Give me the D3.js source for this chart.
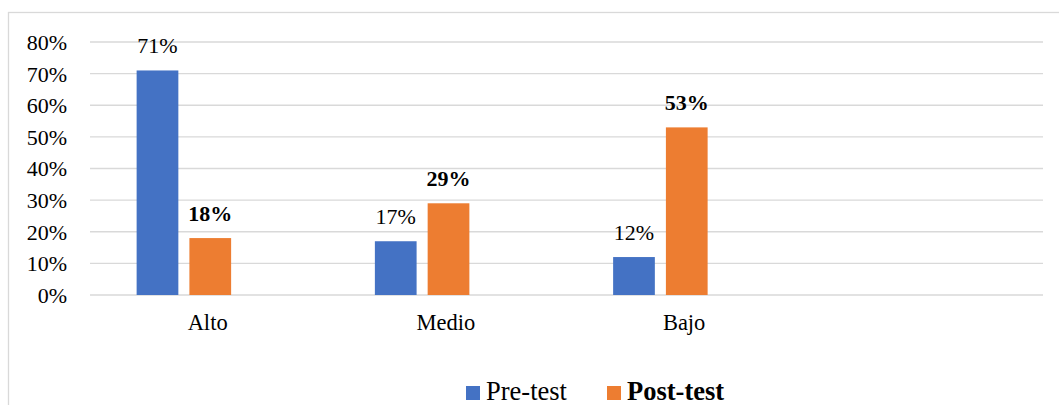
<!DOCTYPE html>
<html>
<head>
<meta charset="utf-8">
<script src="https://cdn.jsdelivr.net/npm/d3@7"></script>
<style>
  html, body { margin: 0; padding: 0; background: #ffffff; }
  svg { display: block; }
</style>
</head>
<body>
<div id="chart"></div>
<script>
const categories = ["Alto", "Medio", "Bajo", ""];
const seriesNames = ["Pre-test", "Post-test"];
const preTest = [0.71, 0.17, 0.12, null];
const postTest = [0.18, 0.29, 0.53, null];
const yTicks = [0, 0.1, 0.2, 0.3, 0.4, 0.5, 0.6, 0.7, 0.8];
const seriesValues = [preTest, postTest];
const seriesColors = ["#4472C4", "#ED7D31"];
const seriesBold = [false, true];

const FONT = "'Liberation Serif', 'Times New Roman', Times, serif";
const W = 1059, H = 405;
const svg = d3.select("#chart").append("svg").attr("width", W).attr("height", H);

// outer chart border (extends beyond the right/bottom edges)
svg.append("rect")
  .attr("x", 8.5).attr("y", 12.5)
  .attr("width", W + 20).attr("height", H + 20)
  .attr("fill", "none").attr("stroke", "#d9d9d9").attr("stroke-width", 1.3);

const plotLeft = 90, plotRight = 1043;
const y = d3.scaleLinear().domain([0, 0.8]).range([295, 42]);
const x0 = d3.scaleBand().domain(categories).range([88.5, 1041.5]).padding(0);
const x1 = d3.scaleBand().domain(seriesNames).range([-71, 23.5]).paddingInner(0.2095).paddingOuter(0);

// gridlines
svg.append("g").selectAll("line").data(yTicks).join("line")
  .attr("x1", plotLeft).attr("x2", plotRight)
  .attr("y1", d => y(d)).attr("y2", d => y(d))
  .attr("stroke", "#d9d9d9").attr("stroke-width", 1.3);

// y axis labels
const yAxis = d3.axisLeft(y).tickValues(yTicks).tickFormat(d3.format(".0%")).tickSize(0).tickPadding(0);
const yg = svg.append("g").attr("transform", "translate(67,0)").call(yAxis);
yg.select(".domain").remove();
yg.attr("font-family", null).attr("font-size", null);
yg.selectAll("text")
  .style("font-family", FONT).style("font-size", "22px").style("fill", "#000")
  .attr("dy", "0.34em");

// x axis labels
const xAxis = d3.axisBottom(x0).tickSize(0).tickPadding(0);
const xg = svg.append("g").attr("transform", "translate(0,313)").call(xAxis);
xg.select(".domain").remove();
xg.attr("font-family", null).attr("font-size", null);
xg.selectAll("text")
  .style("font-family", FONT).style("font-size", "22.5px").style("fill", "#000")
  .attr("dy", "0.76em");

// bars
seriesNames.forEach((s, si) => {
  const data = categories.map((c, i) => ({c, v: seriesValues[si][i]})).filter(d => d.v != null);
  const g = svg.append("g");
  g.selectAll("rect").data(data).join("rect")
    .attr("x", d => x0(d.c) + x0.bandwidth() / 2 + x1(s))
    .attr("width", x1.bandwidth())
    .attr("y", d => y(d.v))
    .attr("height", d => y(0) - y(d.v))
    .attr("fill", seriesColors[si]);
  g.selectAll("text").data(data).join("text")
    .attr("x", d => x0(d.c) + x0.bandwidth() / 2 + x1(s) + x1.bandwidth() / 2)
    .attr("y", d => y(d.v) - 17)
    .attr("text-anchor", "middle")
    .style("font-family", FONT).style("font-size", "22px")
    .style("font-weight", seriesBold[si] ? "bold" : "normal")
    .style("fill", "#000")
    .text(d => d3.format(".0%")(d.v));
});

// legend
const legendX = [466, 607];
const lg = svg.append("g");
seriesNames.forEach((s, si) => {
  lg.append("rect").attr("x", legendX[si]).attr("y", 386).attr("width", 14).attr("height", 14).attr("fill", seriesColors[si]);
  lg.append("text").attr("x", legendX[si] + 20).attr("y", 400)
    .style("font-family", FONT).style("font-size", "26.5px")
    .style("font-weight", seriesBold[si] ? "bold" : "normal")
    .style("fill", "#000")
    .text(s);
});
</script>
</body>
</html>
